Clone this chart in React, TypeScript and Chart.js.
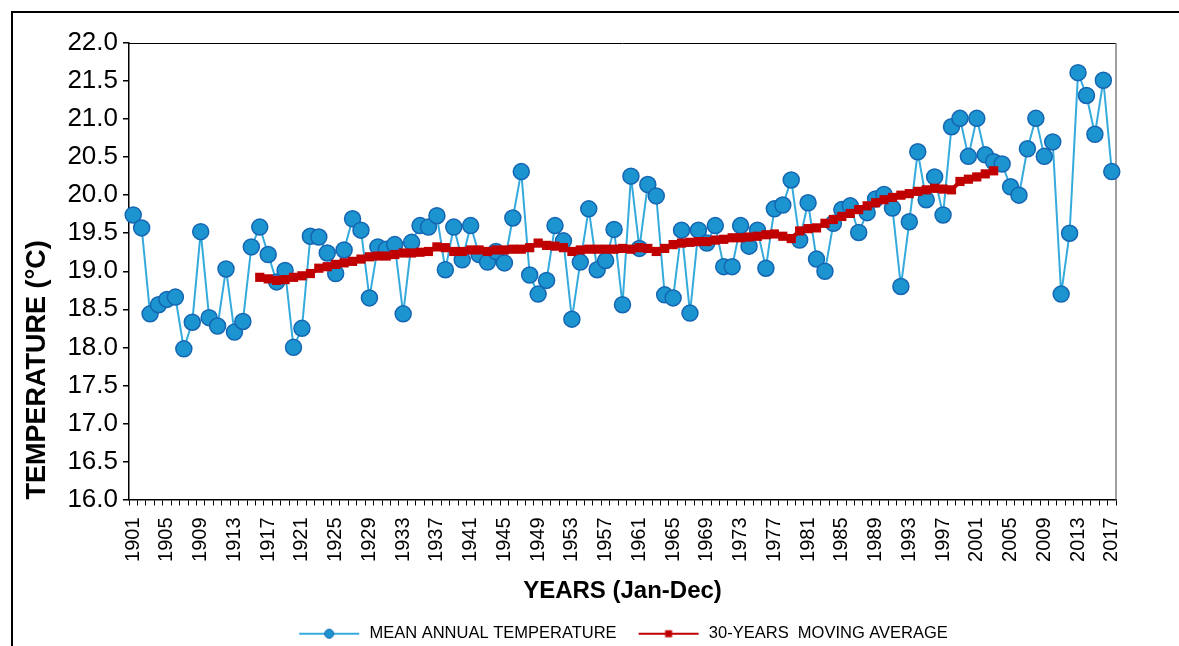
import React, { useEffect, useRef } from "react";
import { Chart, registerables } from "chart.js";

Chart.register(...registerables);

const years = [
  "1901","1902","1903","1904","1905","1906","1907","1908","1909","1910",
  "1911","1912","1913","1914","1915","1916","1917","1918","1919","1920",
  "1921","1922","1923","1924","1925","1926","1927","1928","1929","1930",
  "1931","1932","1933","1934","1935","1936","1937","1938","1939","1940",
  "1941","1942","1943","1944","1945","1946","1947","1948","1949","1950",
  "1951","1952","1953","1954","1955","1956","1957","1958","1959","1960",
  "1961","1962","1963","1964","1965","1966","1967","1968","1969","1970",
  "1971","1972","1973","1974","1975","1976","1977","1978","1979","1980",
  "1981","1982","1983","1984","1985","1986","1987","1988","1989","1990",
  "1991","1992","1993","1994","1995","1996","1997","1998","1999","2000",
  "2001","2002","2003","2004","2005","2006","2007","2008","2009","2010",
  "2011","2012","2013","2014","2015","2016","2017",
];

const tickLabelYears = [
  "1901","1905","1909","1913","1917","1921","1925","1929","1933","1937",
  "1941","1945","1949","1953","1957","1961","1965","1969","1973","1977",
  "1981","1985","1989","1993","1997","2001","2005","2009","2013","2017",
];

const meanAnnualTemperature = [
  19.74, 19.57, 18.44, 18.56, 18.63, 18.66, 17.98, 18.33, 19.52, 18.39,
  18.28, 19.03, 18.20, 18.34, 19.32, 19.58, 19.22, 18.86, 19.01, 18.00,
  18.25, 19.46, 19.45, 19.24, 18.97, 19.28, 19.69, 19.54, 18.65, 19.32,
  19.29, 19.35, 18.44, 19.38, 19.60, 19.58, 19.73, 19.02, 19.58, 19.15,
  19.60, 19.22, 19.12, 19.26, 19.11, 19.70, 20.31, 18.95, 18.70, 18.88,
  19.60, 19.40, 18.37, 19.12, 19.82, 19.02, 19.14, 19.55, 18.56, 20.25,
  19.30, 20.14, 19.99, 18.69, 18.65, 19.54, 18.45, 19.54, 19.37, 19.60,
  19.06, 19.06, 19.60, 19.33, 19.54, 19.04, 19.82, 19.87, 20.20, 19.41,
  19.90, 19.16, 19.00, 19.63, 19.81, 19.86, 19.51, 19.77, 19.95, 20.01,
  19.83, 18.80, 19.65, 20.57, 19.94, 20.24, 19.74, 20.90, 21.01, 20.51,
  21.01, 20.53, 20.44, 20.41, 20.11, 20.00, 20.61, 21.01, 20.51, 20.70,
  18.70, 19.50, 21.61, 21.31, 20.80, 21.51, 20.31,
];

const movingAverageFirstYear = "1916";
const movingAverage = [
  18.92, 18.90, 18.88, 18.89, 18.92, 18.94, 18.97, 19.04, 19.06, 19.09,
  19.11, 19.13, 19.16, 19.19, 19.20, 19.20, 19.22, 19.24, 19.24, 19.25,
  19.26, 19.32, 19.31, 19.26, 19.26, 19.28, 19.28, 19.26, 19.28, 19.28,
  19.29, 19.29, 19.31, 19.37, 19.34, 19.33, 19.31, 19.26, 19.28, 19.29,
  19.29, 19.29, 19.29, 19.30, 19.29, 19.31, 19.30, 19.26, 19.30, 19.35,
  19.37, 19.38, 19.39, 19.39, 19.41, 19.42, 19.44, 19.44, 19.45, 19.46,
  19.48, 19.49, 19.46, 19.43, 19.53, 19.56, 19.57, 19.63, 19.68, 19.72,
  19.76, 19.81, 19.86, 19.90, 19.94, 19.97, 20.00, 20.02, 20.05, 20.07,
  20.09, 20.08, 20.07, 20.18, 20.21, 20.24, 20.28, 20.32,
];

const yTicks = [16.0, 16.5, 17.0, 17.5, 18.0, 18.5, 19.0, 19.5, 20.0, 20.5, 21.0, 21.5, 22.0];

const FONT = "'Liberation Sans', Arial, sans-serif";

function legendImage(lineColor: string, fill: string, stroke: string, shape: "circle" | "square") {
  const c = document.createElement("canvas");
  c.width = 64;
  c.height = 16;
  const ctx = c.getContext("2d")!;
  ctx.strokeStyle = lineColor;
  ctx.lineWidth = 2;
  ctx.beginPath();
  ctx.moveTo(2, 8);
  ctx.lineTo(62, 8);
  ctx.stroke();
  ctx.fillStyle = fill;
  if (shape === "circle") {
    ctx.beginPath();
    ctx.arc(32, 8, 4.5, 0, Math.PI * 2);
    ctx.fill();
    ctx.strokeStyle = stroke;
    ctx.lineWidth = 1;
    ctx.stroke();
  } else {
    ctx.fillRect(28.5, 4.5, 7, 7);
  }
  return c;
}

const plotFrame = {
  id: "plotFrame",
  beforeDatasetsDraw(chart: any) {
    const { ctx, chartArea } = chart;
    ctx.save();
    ctx.strokeStyle = "#000";
    ctx.lineWidth = 1;
    ctx.beginPath();
    ctx.moveTo(chartArea.left, chartArea.top + 0.5);
    ctx.lineTo(chartArea.right, chartArea.top + 0.5);
    ctx.stroke();
    ctx.strokeStyle = "#808080";
    ctx.lineWidth = 1.5;
    ctx.beginPath();
    ctx.moveTo(chartArea.right, chartArea.top);
    ctx.lineTo(chartArea.right, chartArea.bottom);
    ctx.stroke();
    ctx.restore();
  },
};

export default function App() {
  const ref = useRef<HTMLCanvasElement | null>(null);

  useEffect(() => {
    if (!ref.current) return;
    const startIdx = years.indexOf(movingAverageFirstYear);
    const maData = years.map((_, i) => {
      const k = i - startIdx;
      return k >= 0 && k < movingAverage.length ? movingAverage[k] : null;
    });
    const blueImg = legendImage("#35AADC", "#1C94D0", "#1566B2", "circle");
    const redImg = legendImage("#C00000", "#C00000", "#C00000", "square");

    const chart = new Chart(ref.current, {
      type: "line",
      data: {
        labels: years,
        datasets: [
          {
            label: "MEAN ANNUAL TEMPERATURE",
            data: meanAnnualTemperature,
            borderColor: "#35AADC",
            borderWidth: 2,
            pointStyle: "circle",
            pointRadius: 8,
            pointBackgroundColor: "#1C94D0",
            pointBorderColor: "#1566B2",
            pointBorderWidth: 1.5,
            tension: 0,
            clip: false,
            order: 2,
          },
          {
            label: "30-YEARS  MOVING AVERAGE",
            data: maData,
            borderColor: "#C00000",
            borderWidth: 4,
            pointStyle: "rect",
            pointRadius: 6.5,
            pointBackgroundColor: "#C00000",
            pointBorderColor: "#C00000",
            pointBorderWidth: 0,
            tension: 0,
            spanGaps: false,
            clip: false,
            order: 1,
          },
        ],
      },
      options: {
        animation: false,
        responsive: false,
        devicePixelRatio: 1,
        layout: { padding: { top: 43, right: 63, left: 0, bottom: -6 } },
        font: { family: FONT },
        plugins: {
          tooltip: { enabled: false },
          legend: {
            position: "bottom",
            fullSize: false,
            labels: {
              usePointStyle: true,
              pointStyleWidth: 64,
              padding: 20,
              color: "#000",
              font: { family: FONT, size: 16.5 },
              sort: (a: any, b: any) => a.datasetIndex - b.datasetIndex,
              generateLabels: (c: any) => {
                const items = Chart.defaults.plugins.legend.labels.generateLabels(c);
                return items.map((it: any) => ({
                  ...it,
                  pointStyle: it.datasetIndex === 0 ? blueImg : redImg,
                }));
              },
            },
          },
        },
        scales: {
          x: {
            type: "category",
            offset: true,
            grid: {
              offset: true,
              drawOnChartArea: false,
              drawTicks: true,
              tickLength: 6,
              color: "#000",
              lineWidth: 1,
            },
            border: { display: true, color: "#000", width: 1.5 },
            ticks: {
              autoSkip: false,
              maxRotation: 90,
              minRotation: 90,
              padding: 12,
              color: "#000",
              font: { family: FONT, size: 20 },
              callback: (_v: any, idx: number) =>
                tickLabelYears.includes(years[idx]) ? years[idx] : "",
            },
            title: {
              display: true,
              text: "YEARS (Jan-Dec)",
              color: "#000",
              font: { family: FONT, size: 24, weight: "bold" },
              padding: { top: 0, bottom: 0 },
            },
            afterFit: (s: any) => {
              s.height = 106;
            },
          },
          y: {
            min: 16,
            max: 22,
            afterBuildTicks: (s: any) => {
              s.ticks = yTicks.map((v) => ({ value: v }));
            },
            grid: {
              drawOnChartArea: false,
              drawTicks: true,
              tickLength: 6,
              color: "#000",
              lineWidth: 1.5,
            },
            border: { display: true, color: "#000", width: 1.5 },
            ticks: {
              padding: 5,
              color: "#000",
              font: { family: FONT, size: 26 },
              callback: (v: any) => Number(v).toFixed(1),
            },
            title: {
              display: true,
              text: "TEMPERATURE (°C)",
              align: "start",
              color: "#000",
              font: { family: FONT, size: 27, weight: "bold" },
              padding: { top: 21, bottom: 0 },
            },
            afterFit: (s: any) => {
              s.width = 129;
            },
          },
        },
      },
      plugins: [plotFrame],
    });
    return () => chart.destroy();
  }, []);

  return (
    <div
      style={{
        position: "fixed",
        left: 0,
        top: 0,
        width: 1179,
        height: 646,
        overflow: "hidden",
        background: "#fff",
      }}
    >
      <div
        style={{
          position: "absolute",
          left: 11,
          top: 11,
          width: 1300,
          height: 800,
          borderLeft: "2px solid #000",
          borderTop: "2px solid #000",
        }}
      />
      <canvas
        ref={ref}
        width={1179}
        height={646}
        style={{ position: "absolute", left: 0, top: 0, width: 1179, height: 646 }}
      />
    </div>
  );
}
